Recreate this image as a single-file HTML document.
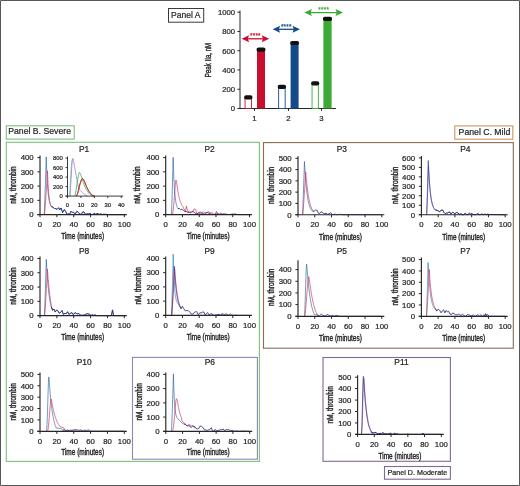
<!DOCTYPE html>
<html lang="en"><head><meta charset="utf-8"><title>Thrombin generation panels</title>
<style>html,body{margin:0;padding:0;background:#fff}body{width:520px;height:486px;overflow:hidden}svg{display:block;font-family:'Liberation Sans', sans-serif}</style></head><body>
<svg width="520" height="486" viewBox="0 0 520 486">
<rect x="0" y="0" width="520" height="486" fill="#fff"/>
<g>
<rect x="168.5" y="8.5" width="35.2" height="13.7" fill="#fff" stroke="#3a3a3a" stroke-width="1"/>
<text transform="translate(171.1 18.2) scale(0.94 1)" font-size="9.1" text-anchor="start" fill="#262626" stroke="#262626" stroke-width="0.22">Panel A</text>
<path d="M240 10.5V108.5H336" stroke="#262626" stroke-width="1" fill="none"/>
<text x="235" y="111.4" font-size="7.7" text-anchor="end" fill="#262626" stroke="#262626" stroke-width="0.22">0</text>
<text x="235" y="92.14" font-size="7.7" text-anchor="end" fill="#262626" stroke="#262626" stroke-width="0.22">200</text>
<text x="235" y="72.88" font-size="7.7" text-anchor="end" fill="#262626" stroke="#262626" stroke-width="0.22">400</text>
<text x="235" y="53.62" font-size="7.7" text-anchor="end" fill="#262626" stroke="#262626" stroke-width="0.22">600</text>
<text x="235" y="34.36" font-size="7.7" text-anchor="end" fill="#262626" stroke="#262626" stroke-width="0.22">800</text>
<text x="235" y="15.1" font-size="7.7" text-anchor="end" fill="#262626" stroke="#262626" stroke-width="0.22">1000</text>
<path d="M237.4 108.5H240M237.4 89.24H240M237.4 69.98H240M237.4 50.72H240M237.4 31.46H240M237.4 12.2H240" stroke="#262626" stroke-width="1" fill="none"/>
<text transform="translate(211.4 60) rotate(-90) scale(0.74 1)" font-size="8.3" text-anchor="middle" fill="#262626" stroke="#262626" stroke-width="0.38">Peak IIa, nM</text>
<rect x="245.05" y="97.43" width="6.5" height="11.07" fill="#fff" stroke="#c8102e" stroke-width="0.9"/>
<rect x="244.1" y="95.33" width="8.4" height="4.2" rx="2" fill="#111"/>
<rect x="257" y="49.56" width="8" height="58.94" fill="#c8102e"/>
<rect x="256.5" y="47.46" width="9" height="4.2" rx="2" fill="#111"/>
<rect x="278.65" y="86.83" width="6.5" height="21.67" fill="#fff" stroke="#164a8a" stroke-width="0.9"/>
<rect x="277.7" y="84.73" width="8.4" height="4.2" rx="2" fill="#111"/>
<rect x="290.6" y="43.02" width="8" height="65.48" fill="#164a8a"/>
<rect x="290.1" y="40.92" width="9" height="4.2" rx="2" fill="#111"/>
<rect x="312.05" y="83.46" width="6.3" height="25.04" fill="#fff" stroke="#3aaa35" stroke-width="0.9"/>
<rect x="311.1" y="81.36" width="8.2" height="4.2" rx="2" fill="#111"/>
<rect x="323.4" y="18.94" width="8.2" height="89.56" fill="#3aaa35"/>
<rect x="322.9" y="16.84" width="9.2" height="4.2" rx="2" fill="#111"/>
<text x="254.5" y="121.3" font-size="7.8" text-anchor="middle" fill="#262626" stroke="#262626" stroke-width="0.22">1</text>
<path d="M254.5 108.5v2.4" stroke="#262626" stroke-width="1" fill="none"/>
<text x="288.5" y="121.3" font-size="7.8" text-anchor="middle" fill="#262626" stroke="#262626" stroke-width="0.22">2</text>
<path d="M288.5 108.5v2.4" stroke="#262626" stroke-width="1" fill="none"/>
<text x="321.5" y="121.3" font-size="7.8" text-anchor="middle" fill="#262626" stroke="#262626" stroke-width="0.22">3</text>
<path d="M321.5 108.5v2.4" stroke="#262626" stroke-width="1" fill="none"/>
<path d="M244.6 38.8H266.2" stroke="#c8102e" stroke-width="1.3" fill="none"/>
<path d="M241.6 38.8l7.5 -3.5l-1.3 3.5l1.3 3.5z" fill="#c8102e"/>
<path d="M269.2 38.8l-7.5 -3.5l1.3 3.5l-1.3 3.5z" fill="#c8102e"/>
<text x="255.4" y="38.3" font-size="6.3" text-anchor="middle" fill="#c8102e" stroke="#c8102e" stroke-width="0.22" letter-spacing="0.25">****</text>
<path d="M275.6 29.3H297" stroke="#164a8a" stroke-width="1.3" fill="none"/>
<path d="M272.6 29.3l7.5 -3.5l-1.3 3.5l1.3 3.5z" fill="#164a8a"/>
<path d="M300 29.3l-7.5 -3.5l1.3 3.5l-1.3 3.5z" fill="#164a8a"/>
<text x="286.3" y="28.8" font-size="6.3" text-anchor="middle" fill="#164a8a" stroke="#164a8a" stroke-width="0.22" letter-spacing="0.25">****</text>
<path d="M307.4 12.6H340" stroke="#3aaa35" stroke-width="1.3" fill="none"/>
<path d="M304.4 12.6l7.5 -3.5l-1.3 3.5l1.3 3.5z" fill="#3aaa35"/>
<path d="M343 12.6l-7.5 -3.5l1.3 3.5l-1.3 3.5z" fill="#3aaa35"/>
<text x="323.7" y="12.1" font-size="6.3" text-anchor="middle" fill="#3aaa35" stroke="#3aaa35" stroke-width="0.22" letter-spacing="0.25">****</text>
</g>
<rect x="6.3" y="125.8" width="67.9" height="13.3" fill="none" stroke="#7cc07a" stroke-width="1.1"/>
<text x="8.2" y="134.4" font-size="8.7" text-anchor="start" fill="#262626" stroke="#262626" stroke-width="0.22">Panel B. Severe</text>
<rect x="6.3" y="142.3" width="253.1" height="319.1" fill="none" stroke="#7cc07a" stroke-width="1.1"/>
<rect x="132.5" y="357.4" width="124.9" height="101.8" fill="none" stroke="#8a89b4" stroke-width="1.1"/>
<rect x="454.8" y="125.9" width="58" height="13.3" fill="none" stroke="#cf9560" stroke-width="1.1"/>
<text x="458.6" y="134.8" font-size="8.7" text-anchor="start" fill="#262626" stroke="#262626" stroke-width="0.22">Panel C. Mild</text>
<rect x="263.5" y="142.6" width="249.8" height="205.6" fill="none" stroke="#8a6c52" stroke-width="1.1"/>
<rect x="323" y="357.5" width="127.4" height="103.8" fill="none" stroke="#806a94" stroke-width="1.1"/>
<rect x="384.5" y="466.5" width="65.9" height="12.7" fill="none" stroke="#806a94" stroke-width="1.1"/>
<text x="387.6" y="475.4" font-size="7.15" text-anchor="start" fill="#262626" stroke="#262626" stroke-width="0.22">Panel D. Moderate</text>
<g>
<path d="M44.22 214.6L44.55 207.25L44.89 198.29L45.23 188.59L45.56 178.4L45.9 167.8L46.24 156.89L46.58 166.85L46.92 174.89L47.27 181.4L47.61 186.65L47.95 190.89L48.3 194.32L48.64 197.09L48.98 199.32L49.32 201.13L49.67 202.59L50.01 203.77L50.35 204.73L50.69 205.5L51.04 206.12L51.38 206.62L52.79 207.1L54.46 208.53L55.9 208.72L57.15 209.3L58.66 207.69L59.86 209.91L61.06 207.97L62.6 212.67L64.31 209.51L65.83 211.84L67.07 214.3L68.25 213.94L69.54 214.35L70.94 211.33L72.38 212.33L73.81 212.37L75.22 214L76.94 211.22L78.57 212.45L79.89 214.34L81.21 214.24L82.58 212.17L83.95 211.86L85.58 214.51L87.25 213.74L88.96 214.06L90.15 213.35L91.74 214.57L92.94 214.41L94.64 213.19L95.85 214.56L97.03 213.22L98.28 213.96L99.68 214.35L100.9 213.86L102.12 214.5L103.39 214.29L104.99 214.33L106.26 214.34L106.6 214.6L124.3 214.6" fill="none" stroke="#2c66a6" stroke-width="0.72" stroke-linejoin="round" opacity="0.95"/>
<path d="M44.55 214.6L44.92 210.58L45.29 205.69L45.66 200.39L46.03 194.82L46.4 189.04L46.77 183.07L47.13 176.96L47.5 170.71L47.85 179.51L48.19 186.25L48.54 191.41L48.88 195.36L49.22 198.39L49.57 200.71L49.91 202.48L50.26 203.84L50.6 204.88L50.94 205.68L51.29 206.29L51.63 206.76L52.79 207.1" fill="none" stroke="#d2305a" stroke-width="0.72" stroke-linejoin="round" opacity="0.92"/>
<path d="M51.38 206.62L52.79 207.1L54.46 208.53L55.9 208.72L57.15 209.3L58.66 207.69L59.86 209.91L61.06 207.97L62.6 212.67L64.31 209.51L65.83 211.84L67.07 214.3L68.25 213.94L69.54 214.35L70.94 211.33L72.38 212.33L73.81 212.37L75.22 214L76.94 211.22L78.57 212.45L79.89 214.34L81.21 214.24L82.58 212.17L83.95 211.86L85.58 214.51L87.25 213.74L88.96 214.06L90.15 213.35L91.74 214.57L92.94 214.41L94.64 213.19L95.85 214.56L97.03 213.22L98.28 213.96L99.68 214.35L100.9 213.86L102.12 214.5L103.39 214.29L104.99 214.33L106.26 214.34L106.6 214.6L124.3 214.6" fill="none" stroke="#2a2a78" stroke-width="0.9" stroke-linejoin="round" opacity="0.95"/>
<path d="M40 155.6V215.2M37.4 214.6H126.8" stroke="#262626" stroke-width="1.15" fill="none"/>
<text x="33.7" y="217.4" font-size="7.8" text-anchor="end" fill="#262626" stroke="#262626" stroke-width="0.22">0</text>
<text x="33.7" y="203.15" font-size="7.8" text-anchor="end" fill="#262626" stroke="#262626" stroke-width="0.22">100</text>
<text x="33.7" y="188.9" font-size="7.8" text-anchor="end" fill="#262626" stroke="#262626" stroke-width="0.22">200</text>
<text x="33.7" y="174.65" font-size="7.8" text-anchor="end" fill="#262626" stroke="#262626" stroke-width="0.22">300</text>
<text x="33.7" y="160.4" font-size="7.8" text-anchor="end" fill="#262626" stroke="#262626" stroke-width="0.22">400</text>
<text x="40" y="227.3" font-size="7.75" text-anchor="middle" fill="#262626" stroke="#262626" stroke-width="0.22">0</text>
<text x="56.86" y="227.3" font-size="7.75" text-anchor="middle" fill="#262626" stroke="#262626" stroke-width="0.22">20</text>
<text x="73.72" y="227.3" font-size="7.75" text-anchor="middle" fill="#262626" stroke="#262626" stroke-width="0.22">40</text>
<text x="90.58" y="227.3" font-size="7.75" text-anchor="middle" fill="#262626" stroke="#262626" stroke-width="0.22">60</text>
<text x="107.44" y="227.3" font-size="7.75" text-anchor="middle" fill="#262626" stroke="#262626" stroke-width="0.22">80</text>
<text x="124.3" y="227.3" font-size="7.75" text-anchor="middle" fill="#262626" stroke="#262626" stroke-width="0.22">100</text>
<path d="M37.4 214.6H40M37.4 200.35H40M37.4 186.1H40M37.4 171.85H40M37.4 157.6H40M40 214.6V217.2M56.86 214.6V217.2M73.72 214.6V217.2M90.58 214.6V217.2M107.44 214.6V217.2M124.3 214.6V217.2" stroke="#262626" stroke-width="1" fill="none"/>
<text transform="translate(82.65 239.4) scale(0.78 1)" font-size="8.3" text-anchor="middle" fill="#262626" stroke="#262626" stroke-width="0.38">Time (minutes)</text>
<text x="84.15" y="151.6" font-size="8.4" text-anchor="middle" fill="#262626" stroke="#262626" stroke-width="0.22">P1</text>
<text transform="translate(15.7 185.1) rotate(-90) scale(0.77 1)" font-size="8.3" text-anchor="middle" fill="#262626" stroke="#262626" stroke-width="0.38">nM, thrombin</text>
</g>
<g>
<path d="M69.65 196.1L69.73 194.57L69.85 192.48L69.99 189.98L70.15 187.27L70.3 184.5L70.45 181.85L70.6 179.16L70.76 176.26L70.92 173.3L71.08 170.45L71.24 167.86L71.39 165.7L71.56 163.96L71.74 162.53L71.92 161.37L72.09 160.42L72.23 159.66L72.33 159.05" fill="none" stroke="#4ab0a8" stroke-width="0.85" stroke-linejoin="round" opacity="0.8"/>
<path d="M70.05 196.1L70.15 194.39L70.3 192.04L70.46 189.24L70.64 186.23L70.82 183.22L70.99 180.42L71.15 177.71L71.31 174.86L71.46 172.01L71.62 169.29L71.78 166.83L71.93 164.75L72.09 163.02L72.24 161.52L72.39 160.28L72.55 159.32L72.71 158.67L72.87 158.34L73.04 158.4L73.2 158.85L73.37 159.6L73.54 160.57L73.73 161.68L73.95 162.85L74.18 164.14L74.43 165.63L74.7 167.26L74.98 168.96L75.27 170.68L75.56 172.35L75.86 174.02L76.16 175.76L76.48 177.52L76.8 179.23L77.12 180.85L77.44 182.32L77.75 183.67L78.05 184.94L78.35 186.11L78.66 187.18L78.98 188.14L79.32 188.97L79.67 189.64L80.03 190.14L80.41 190.53L80.8 190.87L81.19 191.2L81.6 191.59L82.02 192.03L82.45 192.48L82.89 192.94L83.35 193.38L83.81 193.81L84.29 194.2L84.81 194.58L85.4 194.96L86 195.31L86.56 195.63L87.04 195.9L87.38 196.1" fill="none" stroke="#9b8ad6" stroke-width="0.85" stroke-linejoin="round" opacity="1"/>
<path d="M74.75 196.1L74.9 195.54L75.09 194.82L75.32 193.93L75.58 192.9L75.84 191.72L76.1 190.4L76.35 188.83L76.62 186.97L76.9 184.97L77.18 182.96L77.45 181.08L77.71 179.47L77.95 178.11L78.2 176.86L78.44 175.75L78.66 174.77L78.87 173.96L79.05 173.3L79.2 172.84L79.31 172.58L79.41 172.47L79.5 172.47L79.6 172.54L79.72 172.63L79.85 172.76L79.99 172.95L80.13 173.21L80.29 173.54L80.46 173.97L80.66 174.49L80.89 175.13L81.13 175.89L81.4 176.74L81.68 177.64L81.97 178.57L82.27 179.47L82.59 180.4L82.91 181.38L83.26 182.37L83.6 183.35L83.95 184.3L84.29 185.17L84.62 185.98L84.93 186.72L85.25 187.43L85.58 188.11L85.93 188.78L86.3 189.45L86.71 190.13L87.15 190.81L87.6 191.48L88.07 192.12L88.53 192.72L88.99 193.25L89.44 193.72L89.9 194.14L90.36 194.51L90.82 194.84L91.26 195.13L91.67 195.39L92.09 195.6L92.51 195.76L92.92 195.88L93.29 195.97L93.6 196.04L93.82 196.1" fill="none" stroke="#3fae49" stroke-width="0.85" stroke-linejoin="round" opacity="1"/>
<path d="M76.36 196.1L76.5 195.79L76.69 195.4L76.92 194.91L77.17 194.32L77.44 193.62L77.71 192.78L77.99 191.73L78.29 190.48L78.61 189.11L78.94 187.71L79.27 186.37L79.59 185.17L79.91 184.09L80.24 183.03L80.58 182.03L80.9 181.12L81.2 180.34L81.47 179.71L81.69 179.26L81.88 178.95L82.04 178.77L82.19 178.68L82.36 178.67L82.54 178.72L82.74 178.81L82.95 178.99L83.16 179.24L83.39 179.56L83.63 179.96L83.88 180.42L84.17 180.99L84.47 181.66L84.79 182.4L85.12 183.18L85.45 183.96L85.76 184.7L86.08 185.42L86.38 186.15L86.69 186.88L87 187.6L87.32 188.3L87.64 188.97L87.98 189.62L88.33 190.25L88.69 190.87L89.05 191.45L89.42 192.01L89.79 192.54L90.18 193.03L90.58 193.51L90.99 193.95L91.4 194.36L91.81 194.73L92.21 195.06L92.64 195.33L93.11 195.55L93.57 195.73L94 195.88L94.37 196L94.63 196.1" fill="none" stroke="#3a2a1a" stroke-width="0.85" stroke-linejoin="round" opacity="0.9"/>
<path d="M76.63 196.1L76.77 195.76L76.96 195.33L77.19 194.79L77.44 194.16L77.7 193.41L77.98 192.54L78.26 191.48L78.57 190.22L78.89 188.85L79.22 187.45L79.54 186.12L79.86 184.94L80.16 183.86L80.47 182.82L80.78 181.84L81.07 180.95L81.35 180.18L81.6 179.57L81.82 179.13L82 178.83L82.17 178.66L82.33 178.59L82.5 178.58L82.68 178.62L82.86 178.7L83.05 178.86L83.24 179.08L83.44 179.37L83.65 179.74L83.88 180.19L84.14 180.74L84.42 181.41L84.71 182.15L85.01 182.93L85.32 183.71L85.63 184.46L85.95 185.2L86.28 185.96L86.62 186.72L86.96 187.47L87.31 188.19L87.64 188.88L87.98 189.53L88.3 190.15L88.63 190.75L88.96 191.33L89.3 191.87L89.66 192.39L90.04 192.89L90.44 193.37L90.85 193.83L91.27 194.25L91.68 194.63L92.08 194.96L92.49 195.25L92.93 195.49L93.37 195.69L93.77 195.86L94.11 195.99L94.36 196.1" fill="none" stroke="#d8262f" stroke-width="0.85" stroke-linejoin="round" opacity="1"/>
<path d="M67.5 156.5V196.5M65.5 196.1H123.23" stroke="#262626" stroke-width="0.9" fill="none"/>
<text x="62.9" y="198.2" font-size="5.9" text-anchor="end" fill="#262626" stroke="#262626" stroke-width="0.22">0</text>
<text x="62.9" y="188.7" font-size="5.9" text-anchor="end" fill="#262626" stroke="#262626" stroke-width="0.22">200</text>
<text x="62.9" y="179.2" font-size="5.9" text-anchor="end" fill="#262626" stroke="#262626" stroke-width="0.22">400</text>
<text x="62.9" y="169.7" font-size="5.9" text-anchor="end" fill="#262626" stroke="#262626" stroke-width="0.22">600</text>
<text x="62.9" y="160.2" font-size="5.9" text-anchor="end" fill="#262626" stroke="#262626" stroke-width="0.22">800</text>
<text x="67.5" y="206.7" font-size="5.9" text-anchor="middle" fill="#262626" stroke="#262626" stroke-width="0.22">0</text>
<text x="80.93" y="206.7" font-size="5.9" text-anchor="middle" fill="#262626" stroke="#262626" stroke-width="0.22">10</text>
<text x="94.36" y="206.7" font-size="5.9" text-anchor="middle" fill="#262626" stroke="#262626" stroke-width="0.22">20</text>
<text x="107.79" y="206.7" font-size="5.9" text-anchor="middle" fill="#262626" stroke="#262626" stroke-width="0.22">30</text>
<text x="121.22" y="206.7" font-size="5.9" text-anchor="middle" fill="#262626" stroke="#262626" stroke-width="0.22">40</text>
<path d="M65.5 196.1H67.5M65.5 186.6H67.5M65.5 177.1H67.5M65.5 167.6H67.5M65.5 158.1H67.5M67.5 196.1V198.1M80.93 196.1V198.1M94.36 196.1V198.1M107.79 196.1V198.1M121.22 196.1V198.1" stroke="#262626" stroke-width="0.9" fill="none"/>
</g>
<g>
<path d="M172.32 214.6L172.57 213.77L172.82 212.79L173.07 211.2L173.33 209.12L173.58 206.54L173.83 203.68L174.08 200.6L174.33 197.41L174.58 194.13L174.83 190.77L175.09 187.42L175.34 184.38L175.59 181.86L175.84 180.4L176.09 179.97L176.34 180.75L176.59 182.2L176.85 184.1L177.1 186.07L177.35 187.93L177.6 189.64L177.85 191.23L178.1 192.7L178.35 194.06L178.61 195.31L178.86 196.47L179.11 197.54L179.36 198.53L179.61 199.45L179.86 200.3L180.11 201.09L180.37 201.81L180.62 202.48L180.87 203.1L181.12 203.68L181.37 204.21L181.62 204.7L181.87 205.15L182.12 205.57L182.38 205.96L182.63 206.32L182.88 206.64L183.13 206.93L183.38 207.16L183.63 208.33L185.32 211.26L186.47 205.97L187.72 212.05L189.23 211.06L190.87 212.24L192.56 212.08L194.04 208.91L195.57 209.4L197.12 214.52L198.76 212.03L200.07 214.25L201.7 212.46L203.37 211.75L205.06 212.9L206.6 212.87L207.88 211.58L209.2 212.42L210.89 213.07L212.11 212.51L213.63 214.58L215.07 214.21L215.31 214.31L216.4 211.18L217.49 214.31L217.87 214.1L218.49 214.6L218.49 214.6" fill="none" stroke="#d2305a" stroke-width="0.72" stroke-linejoin="round" opacity="0.95"/>
<path d="M171.48 214.6L171.82 205.6L172.15 194.63L172.49 182.76L172.82 170.28L173.16 157.31L173.5 168.24L173.84 176.94L174.18 183.86L174.52 189.36L174.86 193.74L175.21 197.22L175.55 200L175.89 202.2L176.23 203.96L176.57 205.36L176.91 206.47L177.25 207.35L177.59 208.06L177.93 208.62L179.17 208.44" fill="none" stroke="#2c66a6" stroke-width="0.72" stroke-linejoin="round" opacity="0.95"/>
<path d="M177.93 208.62L179.17 208.44L180.67 209.72L181.93 209.16L183.53 210.47L184.96 211.59L186.1 211.35L187.58 212.54L189.17 212.29L190.44 213.07L192.15 211.28L193.79 211.96L194.94 213.01L196.37 213.88L198.05 213.47L199.28 212.45L200.49 212.21L201.89 213.29L203.22 213.53L204.47 214.32L205.74 212.88L207 212.47L208.65 213.09L210.22 213.59L211.78 214.46L213.39 214.33L215.04 214.19L216.38 214.15L217.74 213L219.1 214.58L220.65 213.13L222.07 214.21L223.53 213.73L224.79 214.05L226.25 214.07L227.49 214.52L229.16 214.46L230.48 214.59L232.08 213.98L233.43 214.18L234.96 213.88L236.64 214.41L238.33 214.46L238.61 214.6L249.5 214.6" fill="none" stroke="#2a2a78" stroke-width="0.9" stroke-linejoin="round" opacity="0.9"/>
<path d="M165.7 155.6V215.2M163.1 214.6H252" stroke="#262626" stroke-width="1.15" fill="none"/>
<text x="159.4" y="217.4" font-size="7.8" text-anchor="end" fill="#262626" stroke="#262626" stroke-width="0.22">0</text>
<text x="159.4" y="203.15" font-size="7.8" text-anchor="end" fill="#262626" stroke="#262626" stroke-width="0.22">100</text>
<text x="159.4" y="188.9" font-size="7.8" text-anchor="end" fill="#262626" stroke="#262626" stroke-width="0.22">200</text>
<text x="159.4" y="174.65" font-size="7.8" text-anchor="end" fill="#262626" stroke="#262626" stroke-width="0.22">300</text>
<text x="159.4" y="160.4" font-size="7.8" text-anchor="end" fill="#262626" stroke="#262626" stroke-width="0.22">400</text>
<text x="165.7" y="227.3" font-size="7.75" text-anchor="middle" fill="#262626" stroke="#262626" stroke-width="0.22">0</text>
<text x="182.46" y="227.3" font-size="7.75" text-anchor="middle" fill="#262626" stroke="#262626" stroke-width="0.22">20</text>
<text x="199.22" y="227.3" font-size="7.75" text-anchor="middle" fill="#262626" stroke="#262626" stroke-width="0.22">40</text>
<text x="215.98" y="227.3" font-size="7.75" text-anchor="middle" fill="#262626" stroke="#262626" stroke-width="0.22">60</text>
<text x="232.74" y="227.3" font-size="7.75" text-anchor="middle" fill="#262626" stroke="#262626" stroke-width="0.22">80</text>
<text x="249.5" y="227.3" font-size="7.75" text-anchor="middle" fill="#262626" stroke="#262626" stroke-width="0.22">100</text>
<path d="M163.1 214.6H165.7M163.1 200.35H165.7M163.1 186.1H165.7M163.1 171.85H165.7M163.1 157.6H165.7M165.7 214.6V217.2M182.46 214.6V217.2M199.22 214.6V217.2M215.98 214.6V217.2M232.74 214.6V217.2M249.5 214.6V217.2" stroke="#262626" stroke-width="1" fill="none"/>
<text transform="translate(208.1 239.4) scale(0.78 1)" font-size="8.3" text-anchor="middle" fill="#262626" stroke="#262626" stroke-width="0.38">Time (minutes)</text>
<text x="209.6" y="151.6" font-size="8.4" text-anchor="middle" fill="#262626" stroke="#262626" stroke-width="0.22">P2</text>
<text transform="translate(139.9 185.1) rotate(-90) scale(0.77 1)" font-size="8.3" text-anchor="middle" fill="#262626" stroke="#262626" stroke-width="0.38">nM, thrombin</text>
</g>
<g>
<path d="M44.38 315.6L44.77 306.76L45.16 295.99L45.55 284.34L45.93 272.09L46.32 259.36L46.68 266.03L47.03 271.93L47.39 277.17L47.74 281.8L48.1 285.9L48.45 289.54L48.81 292.76L49.16 295.61L49.52 298.13L49.88 300.37L50.23 302.35L50.59 304.11L50.94 305.66L51.3 307.04L52.62 310.26L53.99 309.1L55.22 312.06L56.5 310.1L57.73 310.54L59.25 313.21L60.71 312.3L62.09 310.54L63.29 314.38L64.97 313.31L66.23 313.72L67.59 311.71L68.86 314.34L70.34 313.39L72.03 312.64L73.38 314.77L75.01 312.54L76.17 313.44L77.82 313.87L79.09 313.55L80.65 315.3L82.17 315.3L83.34 315.04L84.67 314.96L86.19 313.96L87.89 313.76L89.61 314.32L90.93 315.43L92.39 314.76L93.59 315.37L95.08 314.9L96.28 315.38L96.48 315.6L111.4 315.6L112.5 309.89L113.59 315.6L124.3 315.6" fill="none" stroke="#2c66a6" stroke-width="0.72" stroke-linejoin="round" opacity="0.95"/>
<path d="M44.72 315.6L45.06 311.34L45.4 306.15L45.73 300.54L46.07 294.63L46.41 288.49L46.74 282.17L47.08 275.69L47.42 269.06L47.77 273.9L48.12 278.35L48.47 282.45L48.82 286.22L49.17 289.69L49.53 292.88L49.88 295.81L50.23 298.51L50.58 301L50.93 303.28L51.28 305.39L51.63 307.32L52.62 310.26" fill="none" stroke="#d2305a" stroke-width="0.72" stroke-linejoin="round" opacity="0.92"/>
<path d="M51.3 307.04L52.62 310.26L53.99 309.1L55.22 312.06L56.5 310.1L57.73 310.54L59.25 313.21L60.71 312.3L62.09 310.54L63.29 314.38L64.97 313.31L66.23 313.72L67.59 311.71L68.86 314.34L70.34 313.39L72.03 312.64L73.38 314.77L75.01 312.54L76.17 313.44L77.82 313.87L79.09 313.55L80.65 315.3L82.17 315.3L83.34 315.04L84.67 314.96L86.19 313.96L87.89 313.76L89.61 314.32L90.93 315.43L92.39 314.76L93.59 315.37L95.08 314.9L96.28 315.38L96.48 315.6L111.4 315.6L112.5 309.89L113.59 315.6L124.3 315.6" fill="none" stroke="#2a2a78" stroke-width="0.9" stroke-linejoin="round" opacity="0.95"/>
<path d="M40 256.5V316.2M37.4 315.6H126.8" stroke="#262626" stroke-width="1.15" fill="none"/>
<text x="33.7" y="318.4" font-size="7.8" text-anchor="end" fill="#262626" stroke="#262626" stroke-width="0.22">0</text>
<text x="33.7" y="304.13" font-size="7.8" text-anchor="end" fill="#262626" stroke="#262626" stroke-width="0.22">100</text>
<text x="33.7" y="289.85" font-size="7.8" text-anchor="end" fill="#262626" stroke="#262626" stroke-width="0.22">200</text>
<text x="33.7" y="275.58" font-size="7.8" text-anchor="end" fill="#262626" stroke="#262626" stroke-width="0.22">300</text>
<text x="33.7" y="261.3" font-size="7.8" text-anchor="end" fill="#262626" stroke="#262626" stroke-width="0.22">400</text>
<text x="40" y="328.3" font-size="7.75" text-anchor="middle" fill="#262626" stroke="#262626" stroke-width="0.22">0</text>
<text x="56.86" y="328.3" font-size="7.75" text-anchor="middle" fill="#262626" stroke="#262626" stroke-width="0.22">20</text>
<text x="73.72" y="328.3" font-size="7.75" text-anchor="middle" fill="#262626" stroke="#262626" stroke-width="0.22">40</text>
<text x="90.58" y="328.3" font-size="7.75" text-anchor="middle" fill="#262626" stroke="#262626" stroke-width="0.22">60</text>
<text x="107.44" y="328.3" font-size="7.75" text-anchor="middle" fill="#262626" stroke="#262626" stroke-width="0.22">80</text>
<text x="124.3" y="328.3" font-size="7.75" text-anchor="middle" fill="#262626" stroke="#262626" stroke-width="0.22">100</text>
<path d="M37.4 315.6H40M37.4 301.33H40M37.4 287.05H40M37.4 272.78H40M37.4 258.5H40M40 315.6V318.2M56.86 315.6V318.2M73.72 315.6V318.2M90.58 315.6V318.2M107.44 315.6V318.2M124.3 315.6V318.2" stroke="#262626" stroke-width="1" fill="none"/>
<text transform="translate(82.65 340.4) scale(0.78 1)" font-size="8.3" text-anchor="middle" fill="#262626" stroke="#262626" stroke-width="0.38">Time (minutes)</text>
<text x="84.15" y="254.3" font-size="8.4" text-anchor="middle" fill="#262626" stroke="#262626" stroke-width="0.22">P8</text>
<text transform="translate(15.7 286.05) rotate(-90) scale(0.77 1)" font-size="8.3" text-anchor="middle" fill="#262626" stroke="#262626" stroke-width="0.38">nM, thrombin</text>
</g>
<g>
<path d="M171.48 315.4L171.83 305.77L172.17 294.04L172.51 281.35L172.86 267.99L173.2 254.12L173.54 265.95L173.88 275L174.22 281.94L174.55 287.25L174.89 291.32L175.23 294.44L175.57 296.82L175.91 298.65L176.25 300.05L176.59 301.12L176.93 301.95L177.26 302.57L179.78 306.28" fill="none" stroke="#3a86b8" stroke-width="0.72" stroke-linejoin="round" opacity="0.95"/>
<path d="M171.82 315.4L172.17 311.12L172.53 305.91L172.89 300.27L173.24 294.34L173.6 288.18L173.95 281.83L174.31 275.31L174.67 268.66L175.02 273.37L175.37 277.61L175.72 281.41L176.07 284.84L176.42 287.92L176.77 290.69L177.12 293.18L177.47 295.41L177.82 297.43L178.18 299.24L178.53 300.87L178.88 302.33L179.23 303.65L179.58 304.83L179.93 305.89L180.28 306.85" fill="none" stroke="#d2305a" stroke-width="0.72" stroke-linejoin="round" opacity="0.85"/>
<path d="M171.65 315.4L171.98 310.9L172.32 305.42L172.66 299.49L172.99 293.25L173.33 286.77L173.66 280.09L174 273.24L174.33 266.24L174.67 271.85L175.01 276.77L175.35 281.09L175.69 284.87L176.03 288.2L176.37 291.11L176.71 293.66L177.05 295.9L177.4 297.86L177.74 299.59L178.08 301.1L178.42 302.42L178.76 303.58L179.1 304.6L179.44 305.5L179.78 306.28L181.14 308.85" fill="none" stroke="#4a2f86" stroke-width="0.72" stroke-linejoin="round" opacity="0.95"/>
<path d="M179.78 306.28L181.14 308.85L182.37 306.33L183.84 308.76L185.29 310.97L186.85 310.53L188.43 310.66L190.05 312.29L191.28 314L192.83 314.15L194.35 312.31L195.52 311.78L196.68 311.63L198.3 314.77L199.85 312.73L201.06 313.08L202.27 312.15L203.8 312L204.97 314.76L206.47 313.69L207.71 312.69L209.33 315.04L210.55 313.74L211.93 313.85L213.35 314.91L214.5 315.2L216.05 314.95L217.62 314.61L219.26 314.3L220.58 315.37L221.74 313.75L223.38 314.18L224.58 314.51L225.8 313.89L227.31 314.38L228.8 315.37L230.42 313.96L231.7 315.16L233.22 315.26L234.92 315.33L236.45 315.13L236.93 315.4L249.5 315.4" fill="none" stroke="#2a2a78" stroke-width="0.9" stroke-linejoin="round" opacity="0.95"/>
<path d="M165.7 256.4V316M163.1 315.4H252" stroke="#262626" stroke-width="1.15" fill="none"/>
<text x="159.4" y="318.2" font-size="7.8" text-anchor="end" fill="#262626" stroke="#262626" stroke-width="0.22">0</text>
<text x="159.4" y="303.95" font-size="7.8" text-anchor="end" fill="#262626" stroke="#262626" stroke-width="0.22">100</text>
<text x="159.4" y="289.7" font-size="7.8" text-anchor="end" fill="#262626" stroke="#262626" stroke-width="0.22">200</text>
<text x="159.4" y="275.45" font-size="7.8" text-anchor="end" fill="#262626" stroke="#262626" stroke-width="0.22">300</text>
<text x="159.4" y="261.2" font-size="7.8" text-anchor="end" fill="#262626" stroke="#262626" stroke-width="0.22">400</text>
<text x="165.7" y="328.1" font-size="7.75" text-anchor="middle" fill="#262626" stroke="#262626" stroke-width="0.22">0</text>
<text x="182.46" y="328.1" font-size="7.75" text-anchor="middle" fill="#262626" stroke="#262626" stroke-width="0.22">20</text>
<text x="199.22" y="328.1" font-size="7.75" text-anchor="middle" fill="#262626" stroke="#262626" stroke-width="0.22">40</text>
<text x="215.98" y="328.1" font-size="7.75" text-anchor="middle" fill="#262626" stroke="#262626" stroke-width="0.22">60</text>
<text x="232.74" y="328.1" font-size="7.75" text-anchor="middle" fill="#262626" stroke="#262626" stroke-width="0.22">80</text>
<text x="249.5" y="328.1" font-size="7.75" text-anchor="middle" fill="#262626" stroke="#262626" stroke-width="0.22">100</text>
<path d="M163.1 315.4H165.7M163.1 301.15H165.7M163.1 286.9H165.7M163.1 272.65H165.7M163.1 258.4H165.7M165.7 315.4V318M182.46 315.4V318M199.22 315.4V318M215.98 315.4V318M232.74 315.4V318M249.5 315.4V318" stroke="#262626" stroke-width="1" fill="none"/>
<text transform="translate(208.1 340.2) scale(0.78 1)" font-size="8.3" text-anchor="middle" fill="#262626" stroke="#262626" stroke-width="0.38">Time (minutes)</text>
<text x="209.6" y="254.3" font-size="8.4" text-anchor="middle" fill="#262626" stroke="#262626" stroke-width="0.22">P9</text>
<text transform="translate(141.4 285.9) rotate(-90) scale(0.77 1)" font-size="8.3" text-anchor="middle" fill="#262626" stroke="#262626" stroke-width="0.38">nM, thrombin</text>
</g>
<g>
<path d="M46.49 431.3L46.74 429.07L47 424.72L47.25 418.41L47.5 411.14L47.76 403.39L48.01 395.32L48.26 387.06L48.51 380.04L48.77 376.9L49.02 378.29L49.27 381.74L49.53 385.26L49.78 388.56L50.03 391.65L50.28 394.54L50.54 397.25L50.79 399.79L51.04 402.17L51.3 404.4L51.55 406.48L51.8 408.43L52.05 410.26L52.31 411.98L52.56 413.58L52.81 415.08L53.07 416.49L53.32 417.81L53.57 419.04L53.83 420.2L54.08 421.28L54.33 422.3L54.58 423.25L54.84 424.14L55.09 424.97L55.34 425.75L55.6 426.48L55.85 427.09L56.02 427.89L57.7 428.23L59.81 428.45L61.5 428.8L62.76 430.28L63.79 429.98" fill="none" stroke="#2f6f9c" stroke-width="0.72" stroke-linejoin="round" opacity="0.95"/>
<path d="M47.5 431.3L47.76 430.54L48.01 429.47L48.26 427.8L48.51 425.59L48.77 423.01L49.02 420.21L49.27 417.29L49.53 414.27L49.78 411.17L50.03 408.01L50.28 404.87L50.54 402.03L50.79 399.96L51.04 398.98L51.3 399.15L51.55 400.16L51.8 401.59L52.05 403.13L52.31 404.58L52.56 405.96L52.81 407.28L53.07 408.52L53.32 409.71L53.57 410.83L53.83 411.9L54.08 412.91L54.33 413.87L54.58 414.78L54.84 415.65L55.09 416.48L55.34 417.26L55.6 418L55.85 418.7L56.1 419.37L56.35 420.01L56.61 420.61L56.86 421.18L57.11 421.73L57.37 422.24L57.62 422.73L57.87 423.2L58.12 423.64L58.38 424.06L58.63 424.46L58.88 424.84L59.14 425.2L59.39 425.54L59.64 425.85L59.89 426.13L60.15 426.34L60.23 426.98L61.92 427.32L63.6 427.66L64.87 429.93L66.13 430.73L67.63 430.42L69.04 430.6L70.73 430.78L72.29 430.66L73.93 431.16L75.17 430.61L76.75 431.15L78.32 431.27L79.67 431.2L80.95 431.27L82.47 431.27L82.99 431.3L124.3 431.3" fill="none" stroke="#d2305a" stroke-width="0.72" stroke-linejoin="round" opacity="0.95"/>
<path d="M62.76 430.28L63.79 429.98L64.82 430.13L66.32 430.62L67.83 429.73L69.28 431.25L70.67 430.09L71.99 430.43L73.49 429.84L74.87 429.82L76.16 429.6L77.48 430.14L78.56 430.18L79.65 430.15L80.88 429.86L82.19 430.6L83.46 430.86L84.97 429.85L86.18 430.88L87.42 430.27L88.66 429.88L89.69 430.83L90.97 431.22L92.27 431.15L93.11 431.3L124.3 431.3" fill="none" stroke="#2a3a80" stroke-width="0.9" stroke-linejoin="round" opacity="0.9"/>
<path d="M40 372.4V431.9M37.4 431.3H126.8" stroke="#262626" stroke-width="1.15" fill="none"/>
<text x="33.7" y="434.1" font-size="7.8" text-anchor="end" fill="#262626" stroke="#262626" stroke-width="0.22">0</text>
<text x="33.7" y="422.72" font-size="7.8" text-anchor="end" fill="#262626" stroke="#262626" stroke-width="0.22">100</text>
<text x="33.7" y="411.34" font-size="7.8" text-anchor="end" fill="#262626" stroke="#262626" stroke-width="0.22">200</text>
<text x="33.7" y="399.96" font-size="7.8" text-anchor="end" fill="#262626" stroke="#262626" stroke-width="0.22">300</text>
<text x="33.7" y="388.58" font-size="7.8" text-anchor="end" fill="#262626" stroke="#262626" stroke-width="0.22">400</text>
<text x="33.7" y="377.2" font-size="7.8" text-anchor="end" fill="#262626" stroke="#262626" stroke-width="0.22">500</text>
<text x="40" y="443.6" font-size="7.75" text-anchor="middle" fill="#262626" stroke="#262626" stroke-width="0.22">0</text>
<text x="56.86" y="443.6" font-size="7.75" text-anchor="middle" fill="#262626" stroke="#262626" stroke-width="0.22">20</text>
<text x="73.72" y="443.6" font-size="7.75" text-anchor="middle" fill="#262626" stroke="#262626" stroke-width="0.22">40</text>
<text x="90.58" y="443.6" font-size="7.75" text-anchor="middle" fill="#262626" stroke="#262626" stroke-width="0.22">60</text>
<text x="107.44" y="443.6" font-size="7.75" text-anchor="middle" fill="#262626" stroke="#262626" stroke-width="0.22">80</text>
<text x="124.3" y="443.6" font-size="7.75" text-anchor="middle" fill="#262626" stroke="#262626" stroke-width="0.22">100</text>
<path d="M37.4 431.3H40M37.4 419.92H40M37.4 408.54H40M37.4 397.16H40M37.4 385.78H40M37.4 374.4H40M40 431.3V433.9M56.86 431.3V433.9M73.72 431.3V433.9M90.58 431.3V433.9M107.44 431.3V433.9M124.3 431.3V433.9" stroke="#262626" stroke-width="1" fill="none"/>
<text transform="translate(82.65 455.3) scale(0.78 1)" font-size="8.3" text-anchor="middle" fill="#262626" stroke="#262626" stroke-width="0.38">Time (minutes)</text>
<text x="84.15" y="365" font-size="8.4" text-anchor="middle" fill="#262626" stroke="#262626" stroke-width="0.22">P10</text>
<text transform="translate(15.7 401.85) rotate(-90) scale(0.77 1)" font-size="8.3" text-anchor="middle" fill="#262626" stroke="#262626" stroke-width="0.38">nM, thrombin</text>
</g>
<g>
<path d="M171.51 431.3L171.89 422.29L172.28 411.31L172.66 399.44L173.05 386.95L173.43 373.97L173.79 386.67L174.15 395.82L174.51 402.42L174.87 407.17L175.23 410.6L175.59 413.07L175.94 414.85L176.3 416.14L176.66 417.06L177.02 417.73L177.38 418.21L179.22 420.2L180.9 421.91L182.58 423.33L184.26 424.19L185.68 424.4" fill="none" stroke="#2c66a6" stroke-width="0.72" stroke-linejoin="round" opacity="0.95"/>
<path d="M172.76 431.3L173.02 429.54L173.27 428.23L173.52 426.42L173.77 424.14L174.02 421.49L174.27 418.57L174.53 415.53L174.78 412.49L175.03 409.5L175.28 406.7L175.53 404.21L175.78 402.08L176.04 400.4L176.29 399.26L176.54 398.72L176.79 398.79L177.04 399.41L177.29 400.45L177.55 401.77L177.8 403.25L178.05 404.77L178.3 406.26L178.55 407.63L178.8 408.91L179.06 410.09L179.31 411.18L179.56 412.2L179.81 413.13L180.06 414L180.31 414.8L180.57 415.53L180.82 416.18L181.07 416.76L181.32 417.24L181.57 417.64L181.74 420.2L183.42 422.48L185.1 423.9L186.77 425.74L188.46 426.07L189.87 424.55L191.21 426.21L192.45 425.36L194.15 427.61L195.36 427.22" fill="none" stroke="#d2305a" stroke-width="0.72" stroke-linejoin="round" opacity="0.95"/>
<path d="M184.26 424.19L185.68 424.4L187.28 426.06L188.61 424.77L190.03 426.78L191.4 427.3L192.64 426.16L194.29 426.2L195.79 427.98L197.18 429.02L198.74 428.62L200.04 426.03L201.38 426.27L202.87 427.39L204.37 429.89L205.92 429.8L207.29 430.47L208.47 429.71L209.62 429.74L211.24 427.7L212.62 430.94L213.96 431.18L215.23 429.39L216.72 431.1L218.1 430.32L219.32 430.39L220.52 429.55L222.03 429.82L223.41 428.94L224.76 431.22L226.11 429.27L227.34 429.78L229.02 429.66L230.42 430.83L232.06 430.27L233.66 431.11L235.23 431.24L236.85 430.96L238.22 431.24L239.51 431.27L240.47 431.3L240.88 431.06L249.7 431.3" fill="none" stroke="#2a2a78" stroke-width="0.9" stroke-linejoin="round" opacity="0.9"/>
<path d="M165.8 372.4V431.9M163.2 431.3H252.2" stroke="#262626" stroke-width="1.15" fill="none"/>
<text x="159.5" y="434.1" font-size="7.8" text-anchor="end" fill="#262626" stroke="#262626" stroke-width="0.22">0</text>
<text x="159.5" y="419.88" font-size="7.8" text-anchor="end" fill="#262626" stroke="#262626" stroke-width="0.22">100</text>
<text x="159.5" y="405.65" font-size="7.8" text-anchor="end" fill="#262626" stroke="#262626" stroke-width="0.22">200</text>
<text x="159.5" y="391.43" font-size="7.8" text-anchor="end" fill="#262626" stroke="#262626" stroke-width="0.22">300</text>
<text x="159.5" y="377.2" font-size="7.8" text-anchor="end" fill="#262626" stroke="#262626" stroke-width="0.22">400</text>
<text x="165.8" y="443.6" font-size="7.75" text-anchor="middle" fill="#262626" stroke="#262626" stroke-width="0.22">0</text>
<text x="182.58" y="443.6" font-size="7.75" text-anchor="middle" fill="#262626" stroke="#262626" stroke-width="0.22">20</text>
<text x="199.36" y="443.6" font-size="7.75" text-anchor="middle" fill="#262626" stroke="#262626" stroke-width="0.22">40</text>
<text x="216.14" y="443.6" font-size="7.75" text-anchor="middle" fill="#262626" stroke="#262626" stroke-width="0.22">60</text>
<text x="232.92" y="443.6" font-size="7.75" text-anchor="middle" fill="#262626" stroke="#262626" stroke-width="0.22">80</text>
<text x="249.7" y="443.6" font-size="7.75" text-anchor="middle" fill="#262626" stroke="#262626" stroke-width="0.22">100</text>
<path d="M163.2 431.3H165.8M163.2 417.07H165.8M163.2 402.85H165.8M163.2 388.62H165.8M163.2 374.4H165.8M165.8 431.3V433.9M182.58 431.3V433.9M199.36 431.3V433.9M216.14 431.3V433.9M232.92 431.3V433.9M249.7 431.3V433.9" stroke="#262626" stroke-width="1" fill="none"/>
<text transform="translate(208.25 455.3) scale(0.78 1)" font-size="8.3" text-anchor="middle" fill="#262626" stroke="#262626" stroke-width="0.38">Time (minutes)</text>
<text x="209.75" y="365" font-size="8.4" text-anchor="middle" fill="#262626" stroke="#262626" stroke-width="0.22">P6</text>
<text transform="translate(141.5 401.85) rotate(-90) scale(0.77 1)" font-size="8.3" text-anchor="middle" fill="#262626" stroke="#262626" stroke-width="0.38">nM, thrombin</text>
</g>
<g>
<path d="M302.53 214.7L302.91 206.34L303.3 196.14L303.68 185.11L304.07 173.51L304.45 161.46L304.79 167.55L305.12 172.93L305.46 177.7L305.79 181.91L306.13 185.64L306.46 188.94L306.8 191.85L307.13 194.43L307.47 196.71L307.8 198.73L308.14 200.51L308.48 202.09L308.81 203.49L309.15 204.72L309.48 205.82L309.82 206.78L310.15 207.64L310.49 208.39L310.82 209.06L311.16 209.65L311.49 210.18L311.83 210.64L313.08 211.32" fill="none" stroke="#2c66a6" stroke-width="0.72" stroke-linejoin="round" opacity="0.95"/>
<path d="M302.78 214.7L303.14 210.78L303.51 206L303.88 200.83L304.24 195.38L304.61 189.73L304.98 183.91L305.34 177.94L305.71 171.84L306.04 175.8L306.38 179.43L306.72 182.73L307.05 185.76L307.39 188.51L307.72 191.03L308.06 193.33L308.39 195.43L308.73 197.35L309.06 199.1L309.4 200.7L309.73 202.16L310.07 203.49L310.4 204.71L310.74 205.82L311.07 206.83L311.41 207.76L311.74 208.61L312.08 209.38L312.41 210.08L312.75 210.73L313.08 211.32L314.41 211.12" fill="none" stroke="#d2305a" stroke-width="0.72" stroke-linejoin="round" opacity="0.9"/>
<path d="M313.08 211.32L314.41 211.12L315.55 210.04L317.16 210.33L318.45 213.28L319.62 213.47L320.77 212.06L322.12 211.92L323.7 213.61L324.93 213.8L326.09 213.03L327.34 214.5L328.98 213.85L330.66 212.63L332.18 214.53L333.4 214.61L334.96 214.09L336.27 214.61L337.63 214.64L338.94 214.49L340.36 214.29L341.99 214.68L342.41 214.7L381.8 214.7" fill="none" stroke="#2a2a78" stroke-width="0.9" stroke-linejoin="round" opacity="0.95"/>
<path d="M298 156.3V215.3M295.4 214.7H384.3" stroke="#262626" stroke-width="1.15" fill="none"/>
<text x="291.7" y="217.5" font-size="7.8" text-anchor="end" fill="#262626" stroke="#262626" stroke-width="0.22">0</text>
<text x="291.7" y="206.22" font-size="7.8" text-anchor="end" fill="#262626" stroke="#262626" stroke-width="0.22">100</text>
<text x="291.7" y="194.94" font-size="7.8" text-anchor="end" fill="#262626" stroke="#262626" stroke-width="0.22">200</text>
<text x="291.7" y="183.66" font-size="7.8" text-anchor="end" fill="#262626" stroke="#262626" stroke-width="0.22">300</text>
<text x="291.7" y="172.38" font-size="7.8" text-anchor="end" fill="#262626" stroke="#262626" stroke-width="0.22">400</text>
<text x="291.7" y="161.1" font-size="7.8" text-anchor="end" fill="#262626" stroke="#262626" stroke-width="0.22">500</text>
<text x="298" y="227.4" font-size="7.75" text-anchor="middle" fill="#262626" stroke="#262626" stroke-width="0.22">0</text>
<text x="314.76" y="227.4" font-size="7.75" text-anchor="middle" fill="#262626" stroke="#262626" stroke-width="0.22">20</text>
<text x="331.52" y="227.4" font-size="7.75" text-anchor="middle" fill="#262626" stroke="#262626" stroke-width="0.22">40</text>
<text x="348.28" y="227.4" font-size="7.75" text-anchor="middle" fill="#262626" stroke="#262626" stroke-width="0.22">60</text>
<text x="365.04" y="227.4" font-size="7.75" text-anchor="middle" fill="#262626" stroke="#262626" stroke-width="0.22">80</text>
<text x="381.8" y="227.4" font-size="7.75" text-anchor="middle" fill="#262626" stroke="#262626" stroke-width="0.22">100</text>
<path d="M295.4 214.7H298M295.4 203.42H298M295.4 192.14H298M295.4 180.86H298M295.4 169.58H298M295.4 158.3H298M298 214.7V217.3M314.76 214.7V217.3M331.52 214.7V217.3M348.28 214.7V217.3M365.04 214.7V217.3M381.8 214.7V217.3" stroke="#262626" stroke-width="1" fill="none"/>
<text transform="translate(340.4 239.5) scale(0.78 1)" font-size="8.3" text-anchor="middle" fill="#262626" stroke="#262626" stroke-width="0.38">Time (minutes)</text>
<text x="341.9" y="151.7" font-size="8.4" text-anchor="middle" fill="#262626" stroke="#262626" stroke-width="0.22">P3</text>
<text transform="translate(273.7 185.5) rotate(-90) scale(0.77 1)" font-size="8.3" text-anchor="middle" fill="#262626" stroke="#262626" stroke-width="0.38">nM, thrombin</text>
</g>
<g>
<path d="M426.76 214.7L427.1 206.97L427.43 197.54L427.77 187.34L428.1 176.62L428.44 165.47L428.78 172.33L429.12 178.18L429.46 183.16L429.8 187.4L430.14 191.02L430.48 194.1L430.81 196.72L431.15 198.96L431.49 200.87L431.83 202.49L432.17 203.88L432.51 205.06L432.85 206.06L433.19 206.92L433.53 207.65L433.87 208.27L434.21 208.8L434.55 209.25L434.89 209.64L435.23 209.97L436.65 210.25" fill="none" stroke="#8a4a9a" stroke-width="0.72" stroke-linejoin="round" opacity="0.92"/>
<path d="M426.6 214.7L427.01 203.7L427.43 190.3L427.85 175.8L428.27 160.55L428.62 168.14L428.97 174.6L429.31 180.11L429.66 184.81L430.01 188.81L430.36 192.22L430.71 195.12L431.05 197.6L431.4 199.71L431.75 201.51L432.1 203.04L432.44 204.35L432.79 205.46L433.14 206.41L433.49 207.21L433.84 207.9L434.18 208.49L434.53 208.99L434.88 209.41L435.23 209.78L436.65 210.25L438.11 210.79L439.73 211.89L441.12 210.17L442.61 210.03L443.91 212.31L445.23 213.69L446.41 213.08L447.72 213.01L449.41 211.86L450.99 213.95L452.35 212.37L453.62 212.68L454.9 213.84L456.36 212.5L457.91 212.95L459.25 214.35L460.89 213.77L462.44 214.68L463.82 214.57L465.11 213.35L466.78 214.67L468.02 214.49L469.38 213.16L470.53 214.21L471.75 213.55L473.1 214.54L474.74 214.64L476.39 214.59L477.59 213.6L479.27 214.63L480.52 214.53L482.1 214.12L483.63 214.64L485.1 214.12L486.51 214.63L487.87 214.17L489.28 214.7L489.55 214.51L505.2 214.7" fill="none" stroke="#2a4a9a" stroke-width="0.72" stroke-linejoin="round" opacity="0.95"/>
<path d="M435.23 209.78L436.65 210.25L438.11 210.79L439.73 211.89L441.12 210.17L442.61 210.03L443.91 212.31L445.23 213.69L446.41 213.08L447.72 213.01L449.41 211.86L450.99 213.95L452.35 212.37L453.62 212.68L454.9 213.84L456.36 212.5L457.91 212.95L459.25 214.35L460.89 213.77L462.44 214.68L463.82 214.57L465.11 213.35L466.78 214.67L468.02 214.49L469.38 213.16L470.53 214.21L471.75 213.55L473.1 214.54L474.74 214.64L476.39 214.59L477.59 213.6L479.27 214.63L480.52 214.53L482.1 214.12L483.63 214.64L485.1 214.12L486.51 214.63L487.87 214.17L489.28 214.7L489.55 214.51L505.2 214.7" fill="none" stroke="#2a2a78" stroke-width="0.9" stroke-linejoin="round" opacity="0.95"/>
<path d="M421.4 155.9V215.3M418.8 214.7H507.7" stroke="#262626" stroke-width="1.15" fill="none"/>
<text x="415.1" y="217.5" font-size="7.8" text-anchor="end" fill="#262626" stroke="#262626" stroke-width="0.22">0</text>
<text x="415.1" y="208.03" font-size="7.8" text-anchor="end" fill="#262626" stroke="#262626" stroke-width="0.22">100</text>
<text x="415.1" y="198.57" font-size="7.8" text-anchor="end" fill="#262626" stroke="#262626" stroke-width="0.22">200</text>
<text x="415.1" y="189.1" font-size="7.8" text-anchor="end" fill="#262626" stroke="#262626" stroke-width="0.22">300</text>
<text x="415.1" y="179.63" font-size="7.8" text-anchor="end" fill="#262626" stroke="#262626" stroke-width="0.22">400</text>
<text x="415.1" y="170.17" font-size="7.8" text-anchor="end" fill="#262626" stroke="#262626" stroke-width="0.22">500</text>
<text x="415.1" y="160.7" font-size="7.8" text-anchor="end" fill="#262626" stroke="#262626" stroke-width="0.22">600</text>
<text x="421.4" y="227.4" font-size="7.75" text-anchor="middle" fill="#262626" stroke="#262626" stroke-width="0.22">0</text>
<text x="438.16" y="227.4" font-size="7.75" text-anchor="middle" fill="#262626" stroke="#262626" stroke-width="0.22">20</text>
<text x="454.92" y="227.4" font-size="7.75" text-anchor="middle" fill="#262626" stroke="#262626" stroke-width="0.22">40</text>
<text x="471.68" y="227.4" font-size="7.75" text-anchor="middle" fill="#262626" stroke="#262626" stroke-width="0.22">60</text>
<text x="488.44" y="227.4" font-size="7.75" text-anchor="middle" fill="#262626" stroke="#262626" stroke-width="0.22">80</text>
<text x="505.2" y="227.4" font-size="7.75" text-anchor="middle" fill="#262626" stroke="#262626" stroke-width="0.22">100</text>
<path d="M418.8 214.7H421.4M418.8 205.23H421.4M418.8 195.77H421.4M418.8 186.3H421.4M418.8 176.83H421.4M418.8 167.37H421.4M418.8 157.9H421.4M421.4 214.7V217.3M438.16 214.7V217.3M454.92 214.7V217.3M471.68 214.7V217.3M488.44 214.7V217.3M505.2 214.7V217.3" stroke="#262626" stroke-width="1" fill="none"/>
<text transform="translate(463.8 239.5) scale(0.78 1)" font-size="8.3" text-anchor="middle" fill="#262626" stroke="#262626" stroke-width="0.38">Time (minutes)</text>
<text x="465.3" y="151.7" font-size="8.4" text-anchor="middle" fill="#262626" stroke="#262626" stroke-width="0.22">P4</text>
<text transform="translate(398.2 185.3) rotate(-90) scale(0.77 1)" font-size="8.3" text-anchor="middle" fill="#262626" stroke="#262626" stroke-width="0.38">nM, thrombin</text>
</g>
<g>
<path d="M304.41 316.3L304.66 313.38L304.91 308.42L305.16 301.27L305.42 293.24L305.67 285.1L305.92 276.99L306.17 269.66L306.42 264.98L306.67 264.11L306.92 266.36L307.18 269.72L307.43 273.03L307.68 276.13L307.93 279.04L308.18 281.76L308.43 284.32L308.68 286.72L308.94 288.98L309.19 291.09L309.44 293.07L309.69 294.93L309.94 296.68L310.19 298.32L310.44 299.85L310.7 301.29L310.95 302.64L311.2 303.91L311.45 305.1L311.7 306.22L311.95 307.27L312.2 308.25L312.46 309.17L312.71 310.03L312.96 310.85L313.21 311.61L313.46 312.32L313.71 312.99L313.96 313.6L314.22 314.09L314.34 314.67L316.86 314.9" fill="none" stroke="#2f6f98" stroke-width="0.72" stroke-linejoin="round" opacity="0.95"/>
<path d="M304.79 316.3L305.04 314.98L305.29 313.25L305.54 310.73L305.79 307.68L306.04 304.41L306.3 301.15L306.55 297.99L306.8 294.9L307.05 291.86L307.3 288.87L307.55 285.91L307.8 282.99L308.06 280.26L308.31 278.05L308.56 276.75L308.81 276.61L309.06 277.55L309.31 279.24L309.56 281.19L309.82 283.14L310.07 285L310.32 286.79L310.57 288.51L310.82 290.15L311.07 291.72L311.32 293.23L311.58 294.68L311.83 296.06L312.08 297.38L312.33 298.66L312.58 299.87L312.83 301.04L313.08 302.15L313.34 303.22L313.59 304.25L313.84 305.23L314.09 306.17L314.34 307.07L314.59 307.94L314.84 308.76L315.1 309.56L315.35 310.32L315.6 311.04L315.85 311.74L316.1 312.41L316.35 313.01L316.6 313.53L316.86 314.43L318.04 315.55" fill="none" stroke="#d2305a" stroke-width="0.72" stroke-linejoin="round" opacity="0.95"/>
<path d="M316.86 314.43L318.04 315.55L319.57 315.79L321.25 314.12L322.81 315.24L324.43 315.9L325.91 315.71L327.33 314.51L328.59 315.08L330.17 316.05L331.56 315.65L332.88 315.68L334.56 316.11L336.12 315.47L337.75 315.7L339.14 316.26L340.5 316.15L340.74 316.3L381.8 316.3" fill="none" stroke="#2a2a78" stroke-width="0.9" stroke-linejoin="round" opacity="0.9"/>
<path d="M298 260.2V316.9M295.4 316.3H384.3" stroke="#262626" stroke-width="1.15" fill="none"/>
<text x="291.7" y="319.1" font-size="7.8" text-anchor="end" fill="#262626" stroke="#262626" stroke-width="0.22">0</text>
<text x="291.7" y="307.43" font-size="7.8" text-anchor="end" fill="#262626" stroke="#262626" stroke-width="0.22">100</text>
<text x="291.7" y="295.75" font-size="7.8" text-anchor="end" fill="#262626" stroke="#262626" stroke-width="0.22">200</text>
<text x="291.7" y="284.08" font-size="7.8" text-anchor="end" fill="#262626" stroke="#262626" stroke-width="0.22">300</text>
<text x="291.7" y="272.4" font-size="7.8" text-anchor="end" fill="#262626" stroke="#262626" stroke-width="0.22">400</text>
<text x="298" y="329" font-size="7.75" text-anchor="middle" fill="#262626" stroke="#262626" stroke-width="0.22">0</text>
<text x="314.76" y="329" font-size="7.75" text-anchor="middle" fill="#262626" stroke="#262626" stroke-width="0.22">20</text>
<text x="331.52" y="329" font-size="7.75" text-anchor="middle" fill="#262626" stroke="#262626" stroke-width="0.22">40</text>
<text x="348.28" y="329" font-size="7.75" text-anchor="middle" fill="#262626" stroke="#262626" stroke-width="0.22">60</text>
<text x="365.04" y="329" font-size="7.75" text-anchor="middle" fill="#262626" stroke="#262626" stroke-width="0.22">80</text>
<text x="381.8" y="329" font-size="7.75" text-anchor="middle" fill="#262626" stroke="#262626" stroke-width="0.22">100</text>
<path d="M295.4 316.3H298M295.4 304.62H298M295.4 292.95H298M295.4 281.28H298M295.4 269.6H298M298 316.3V318.9M314.76 316.3V318.9M331.52 316.3V318.9M348.28 316.3V318.9M365.04 316.3V318.9M381.8 316.3V318.9" stroke="#262626" stroke-width="1" fill="none"/>
<text transform="translate(340.4 341.1) scale(0.78 1)" font-size="8.3" text-anchor="middle" fill="#262626" stroke="#262626" stroke-width="0.38">Time (minutes)</text>
<text x="341.9" y="254.3" font-size="8.4" text-anchor="middle" fill="#262626" stroke="#262626" stroke-width="0.22">P5</text>
<text transform="translate(273.7 287.3) rotate(-90) scale(0.77 1)" font-size="8.3" text-anchor="middle" fill="#262626" stroke="#262626" stroke-width="0.38">nM, thrombin</text>
</g>
<g>
<path d="M426.43 316.3L426.76 307.86L427.1 297.56L427.43 286.43L427.77 274.71L428.1 262.55L428.45 269.54L428.8 275.53L429.15 280.65L429.5 285.03L429.85 288.79L430.2 292L430.55 294.75L430.9 297.1L431.25 299.12L431.6 300.84L431.94 302.32L432.29 303.58L432.64 304.66L432.99 305.59L433.34 306.38L433.69 307.06L434.04 307.64L434.39 308.14L435.23 308.59" fill="none" stroke="#3a7fb0" stroke-width="0.72" stroke-linejoin="round" opacity="0.95"/>
<path d="M426.6 316.3L426.93 312L427.27 306.77L427.6 301.1L427.94 295.14L428.27 288.96L428.61 282.58L428.94 276.04L429.28 269.35L429.63 274.84L429.98 279.63L430.33 283.82L430.68 287.47L431.03 290.67L431.38 293.46L431.73 295.89L432.08 298.02L432.43 299.88L432.78 301.5L433.13 302.92L433.48 304.16L433.83 305.24L434.18 306.19L434.53 307.01L434.88 307.73L435.23 308.36L436.7 311.09" fill="none" stroke="#d2305a" stroke-width="0.72" stroke-linejoin="round" opacity="0.9"/>
<path d="M435.23 308.36L436.7 311.09L438.39 309.06L439.79 310.59L441.06 312.83L442.36 310.93L443.62 309.74L444.8 312.91L445.99 310.52L447.34 311.68L448.66 311.33L450.03 314.01L451.42 314.66L452.62 312.94L454.15 313.69L455.79 314.84L457.15 314.87L458.52 314.15L459.66 314.92L461.11 315.4L462.26 314.29L463.4 314.82L464.63 316.23L465.81 316.26L467.34 314.58L468.68 314.85L470.09 315.33L471.73 315.89L473.37 314.86L474.9 316.27L476.05 315.84L477.73 314.51L479.35 316.08L480.93 314.75L482.52 316.3L483.77 314.78L484.67 316.07L485.51 313.58L486.34 316.07L486.72 314.57L487.94 314.93L489.28 316.3L489.58 316.28L505.2 316.3" fill="none" stroke="#2a2a78" stroke-width="0.9" stroke-linejoin="round" opacity="0.95"/>
<path d="M421.4 257.6V316.9M418.8 316.3H507.7" stroke="#262626" stroke-width="1.15" fill="none"/>
<text x="415.1" y="319.1" font-size="7.8" text-anchor="end" fill="#262626" stroke="#262626" stroke-width="0.22">0</text>
<text x="415.1" y="307.76" font-size="7.8" text-anchor="end" fill="#262626" stroke="#262626" stroke-width="0.22">100</text>
<text x="415.1" y="296.42" font-size="7.8" text-anchor="end" fill="#262626" stroke="#262626" stroke-width="0.22">200</text>
<text x="415.1" y="285.08" font-size="7.8" text-anchor="end" fill="#262626" stroke="#262626" stroke-width="0.22">300</text>
<text x="415.1" y="273.74" font-size="7.8" text-anchor="end" fill="#262626" stroke="#262626" stroke-width="0.22">400</text>
<text x="415.1" y="262.4" font-size="7.8" text-anchor="end" fill="#262626" stroke="#262626" stroke-width="0.22">500</text>
<text x="421.4" y="329" font-size="7.75" text-anchor="middle" fill="#262626" stroke="#262626" stroke-width="0.22">0</text>
<text x="438.16" y="329" font-size="7.75" text-anchor="middle" fill="#262626" stroke="#262626" stroke-width="0.22">20</text>
<text x="454.92" y="329" font-size="7.75" text-anchor="middle" fill="#262626" stroke="#262626" stroke-width="0.22">40</text>
<text x="471.68" y="329" font-size="7.75" text-anchor="middle" fill="#262626" stroke="#262626" stroke-width="0.22">60</text>
<text x="488.44" y="329" font-size="7.75" text-anchor="middle" fill="#262626" stroke="#262626" stroke-width="0.22">80</text>
<text x="505.2" y="329" font-size="7.75" text-anchor="middle" fill="#262626" stroke="#262626" stroke-width="0.22">100</text>
<path d="M418.8 316.3H421.4M418.8 304.96H421.4M418.8 293.62H421.4M418.8 282.28H421.4M418.8 270.94H421.4M418.8 259.6H421.4M421.4 316.3V318.9M438.16 316.3V318.9M454.92 316.3V318.9M471.68 316.3V318.9M488.44 316.3V318.9M505.2 316.3V318.9" stroke="#262626" stroke-width="1" fill="none"/>
<text transform="translate(463.8 341.1) scale(0.78 1)" font-size="8.3" text-anchor="middle" fill="#262626" stroke="#262626" stroke-width="0.38">Time (minutes)</text>
<text x="465.3" y="254.3" font-size="8.4" text-anchor="middle" fill="#262626" stroke="#262626" stroke-width="0.22">P7</text>
<text transform="translate(398.2 286.95) rotate(-90) scale(0.77 1)" font-size="8.3" text-anchor="middle" fill="#262626" stroke="#262626" stroke-width="0.38">nM, thrombin</text>
</g>
<g>
<path d="M361.58 434.4L361.83 431.78L362.08 427.69L362.33 421.25L362.58 412.94L362.83 403.46L363.08 393.82L363.33 385.41L363.58 379.9L363.84 378.34L364.09 380.17L364.34 383.8L364.59 387.88L364.84 391.68L365.09 395.19L365.34 398.43L365.59 401.42L365.84 404.17L366.1 406.72L366.35 409.06L366.6 411.22L366.85 413.22L367.1 415.06L367.35 416.76L367.6 418.33L367.85 419.77L368.1 421.11L368.36 422.34L368.61 423.47L368.86 424.52L369.11 425.49L369.36 426.38L369.61 427.2L369.86 427.96L370.11 428.66L370.36 429.3L370.62 429.9L370.87 430.44L371.12 430.89L371.37 431.22L371.41 431.88L373.02 433.15" fill="none" stroke="#b04a8a" stroke-width="0.72" stroke-linejoin="round" opacity="0.92"/>
<path d="M361.32 434.4L361.58 431.28L361.83 426.46L362.08 418.86L362.33 409.05L362.58 398.04L362.83 387.65L363.08 379.83L363.33 376.28L363.58 377.02L363.84 380.44L364.09 384.8L364.34 388.97L364.59 392.81L364.84 396.33L365.09 399.57L365.34 402.56L365.59 405.3L365.84 407.82L366.1 410.14L366.35 412.27L366.6 414.23L366.85 416.03L367.1 417.69L367.35 419.21L367.6 420.61L367.85 421.9L368.1 423.09L368.36 424.18L368.61 425.18L368.86 426.1L369.11 426.95L369.36 427.73L369.61 428.44L369.86 429.1L370.11 429.71L370.36 430.26L370.62 430.74L370.87 431.11L370.99 431.88L373.02 433.15L374.69 432.56L376.06 432.44L377.29 433.8L378.67 433.76L380.19 433.32L381.55 433.77L382.81 432.7L384.46 433.75L386.06 433.92L387.63 434.15L389.09 433.84L390.73 433.21L391.93 434.29L393.19 434.34L394.87 433.2L396.02 434.27L397.69 433.8L397.78 434.4L407.15 434.4L407.82 433.71L408.49 434.4L422.05 434.4L422.89 433.03L423.72 434.4L441.3 434.4" fill="none" stroke="#2a3a8a" stroke-width="0.72" stroke-linejoin="round" opacity="0.95"/>
<path d="M370.99 431.88L373.02 433.15L374.69 432.56L376.06 432.44L377.29 433.8L378.67 433.76L380.19 433.32L381.55 433.77L382.81 432.7L384.46 433.75L386.06 433.92L387.63 434.15L389.09 433.84L390.73 433.21L391.93 434.29L393.19 434.34L394.87 433.2L396.02 434.27L397.69 433.8L397.78 434.4L407.15 434.4L407.82 433.71L408.49 434.4L422.05 434.4L422.89 433.03L423.72 434.4L441.3 434.4" fill="none" stroke="#2a2a78" stroke-width="0.9" stroke-linejoin="round" opacity="0.95"/>
<path d="M357.6 375.2V435M355 434.4H443.8" stroke="#262626" stroke-width="1.15" fill="none"/>
<text x="351.3" y="437.2" font-size="7.8" text-anchor="end" fill="#262626" stroke="#262626" stroke-width="0.22">0</text>
<text x="351.3" y="425.76" font-size="7.8" text-anchor="end" fill="#262626" stroke="#262626" stroke-width="0.22">100</text>
<text x="351.3" y="414.32" font-size="7.8" text-anchor="end" fill="#262626" stroke="#262626" stroke-width="0.22">200</text>
<text x="351.3" y="402.88" font-size="7.8" text-anchor="end" fill="#262626" stroke="#262626" stroke-width="0.22">300</text>
<text x="351.3" y="391.44" font-size="7.8" text-anchor="end" fill="#262626" stroke="#262626" stroke-width="0.22">400</text>
<text x="351.3" y="380" font-size="7.8" text-anchor="end" fill="#262626" stroke="#262626" stroke-width="0.22">500</text>
<text x="357.6" y="447.1" font-size="7.75" text-anchor="middle" fill="#262626" stroke="#262626" stroke-width="0.22">0</text>
<text x="374.34" y="447.1" font-size="7.75" text-anchor="middle" fill="#262626" stroke="#262626" stroke-width="0.22">20</text>
<text x="391.08" y="447.1" font-size="7.75" text-anchor="middle" fill="#262626" stroke="#262626" stroke-width="0.22">40</text>
<text x="407.82" y="447.1" font-size="7.75" text-anchor="middle" fill="#262626" stroke="#262626" stroke-width="0.22">60</text>
<text x="424.56" y="447.1" font-size="7.75" text-anchor="middle" fill="#262626" stroke="#262626" stroke-width="0.22">80</text>
<text x="441.3" y="447.1" font-size="7.75" text-anchor="middle" fill="#262626" stroke="#262626" stroke-width="0.22">100</text>
<path d="M355 434.4H357.6M355 422.96H357.6M355 411.52H357.6M355 400.08H357.6M355 388.64H357.6M355 377.2H357.6M357.6 434.4V437M374.34 434.4V437M391.08 434.4V437M407.82 434.4V437M424.56 434.4V437M441.3 434.4V437" stroke="#262626" stroke-width="1" fill="none"/>
<text transform="translate(399.95 458.8) scale(0.78 1)" font-size="8.3" text-anchor="middle" fill="#262626" stroke="#262626" stroke-width="0.38">Time (minutes)</text>
<text x="401.45" y="365" font-size="8.4" text-anchor="middle" fill="#262626" stroke="#262626" stroke-width="0.22">P11</text>
<text transform="translate(333.3 404.8) rotate(-90) scale(0.77 1)" font-size="8.3" text-anchor="middle" fill="#262626" stroke="#262626" stroke-width="0.38">nM, thrombin</text>
</g>
<path d="M0.5 0.5H519.5V485.5H0.5Z" fill="none" stroke="#585858" stroke-width="1"/>
</svg></body></html>
